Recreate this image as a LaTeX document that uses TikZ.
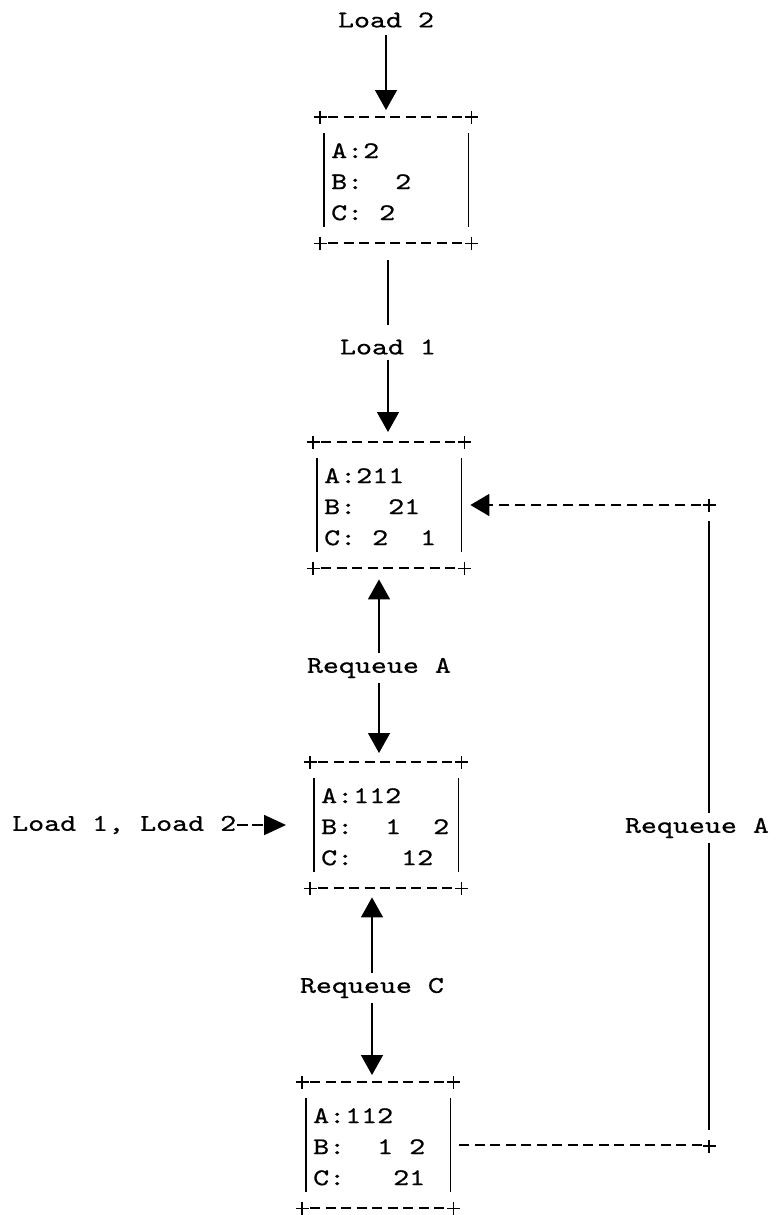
\documentclass[tikz,border=0pt]{standalone}
\usepackage{fontspec}
\newfontfamily\qfont{lmmono10-regular.otf}[FakeStretch=1.27,FakeBold=0.6]
\usetikzlibrary{arrows.meta}
\tikzset{
  qtxt/.style={font=\qfont\fontsize{24}{31}\selectfont, inner sep=0pt, align=left, anchor=north west},
  lbl/.style={font=\qfont\fontsize{24}{31}\selectfont, inner sep=5pt},
  frame/.style={minimum width=151pt, minimum height=126pt, inner sep=0pt, anchor=north west},
  rule/.style={line width=1.8pt},
  dashrule/.style={line width=1.9pt, dash pattern=on 10pt off 5.5pt},
  bar/.style={line width=1.6pt},
  thinv/.style={line width=1.2pt},
  arr/.style={line width=1.4pt, -{Triangle[length=20pt,width=22pt]}},
  darr/.style={line width=1.8pt, dash pattern=on 11pt off 4pt, -{Triangle[length=22pt,width=20pt]}},
  darrR/.style={line width=1.8pt, dash pattern=on 10pt off 6pt, -{Triangle[length=19pt,width=22pt]}},
}
\newcommand\crs[1]{\draw[rule] (#1) ++(-6.5,0) -- ++(13,0) (#1) ++(0,-6.5) -- ++(0,13);}
\newcommand\qbox[4]{%
  \node[frame] (#1) at (#2,#3) {};
  \node[qtxt] (#1t) at ({#2+11},{#3+26}) {#4};
  \draw[dashrule] ([xshift=8pt]#1.north west) -- ([xshift=-8pt]#1.north east);
  \draw[dashrule] ([xshift=8pt]#1.south west) -- ([xshift=-8pt]#1.south east);
  \crs{#1.north west}\crs{#1.north east}\crs{#1.south west}\crs{#1.south east}
  \draw[bar] ([xshift=4pt,yshift=-16pt]#1.north west) -- ([xshift=4pt,yshift=16pt]#1.south west);
  \draw[bar] ([xshift=-3pt,yshift=-16pt]#1.north east) -- ([xshift=-3pt,yshift=16pt]#1.south east);
}
\begin{document}
\begin{tikzpicture}[x=1pt,y=-1pt]
\useasboundingbox[fill=white] (0,0) rectangle (784,1215);

\qbox{b1}{320}{117}{A:2\\B:~~2\\C:~2}
\qbox{b2}{313}{442}{A:211\\B:~~21\\C:~2~~1}
\qbox{b3}{310}{762}{A:112\\B:~~1~~2\\C:~~~12}
\qbox{b4}{302}{1082}{A:112\\B:~~1~2\\C:~~~21}

\node[lbl] (load2) at (386,20) {Load 2};
\node[lbl] (load1) at (388,347) {Load 1};
\node[lbl] (rqA) at (379,668) {Requeue A};
\node[lbl] (rqC) at (372,988) {Requeue C};
\node[lbl, anchor=west, inner sep=0pt] (inp) at (12,825) {Load 1, Load 2};
\node[lbl] (rqR) at (697,828) {Requeue A};

\draw[arr, shorten <=2pt, shorten >=7pt] (load2.south) -- (load2.south |- b1.north);
\draw[rule, line width=1.4pt, shorten <=17pt, shorten >=9pt] (load1.north |- b1.south) -- (load1.north);
\draw[arr, shorten >=10pt] (load1.south) -- (load1.south |- b2.north);

\draw[arr, shorten >=11pt] (rqA.north) -- (rqA.north |- b2.south);
\draw[arr, shorten >=9pt] (rqA.south) -- (rqA.south |- b3.north);
\draw[arr, shorten >=9pt] (rqC.north) -- (rqC.north |- b3.south);
\draw[arr, shorten >=7pt] (rqC.south) -- (rqC.south |- b4.north);

\draw[darr, shorten <=1pt, shorten >=24pt] (inp.east) -- (inp.east -| b3.west);

\coordinate (c1) at (709,1146);
\coordinate (c2) at (709,505);
\draw[dashrule, shorten <=6pt, shorten >=7pt] (b4.east) -- (b4.east -| c1);
\crs{c1}\crs{c2}
\draw[thinv, shorten <=16pt] (c1) -- (c1 |- rqR.south);
\draw[thinv, shorten >=16pt] (c1 |- rqR.north) -- (c2);
\draw[darrR, shorten <=8pt, shorten >=6pt] (c2) -- (c2 -| b2.east);
\end{tikzpicture}
\end{document}
